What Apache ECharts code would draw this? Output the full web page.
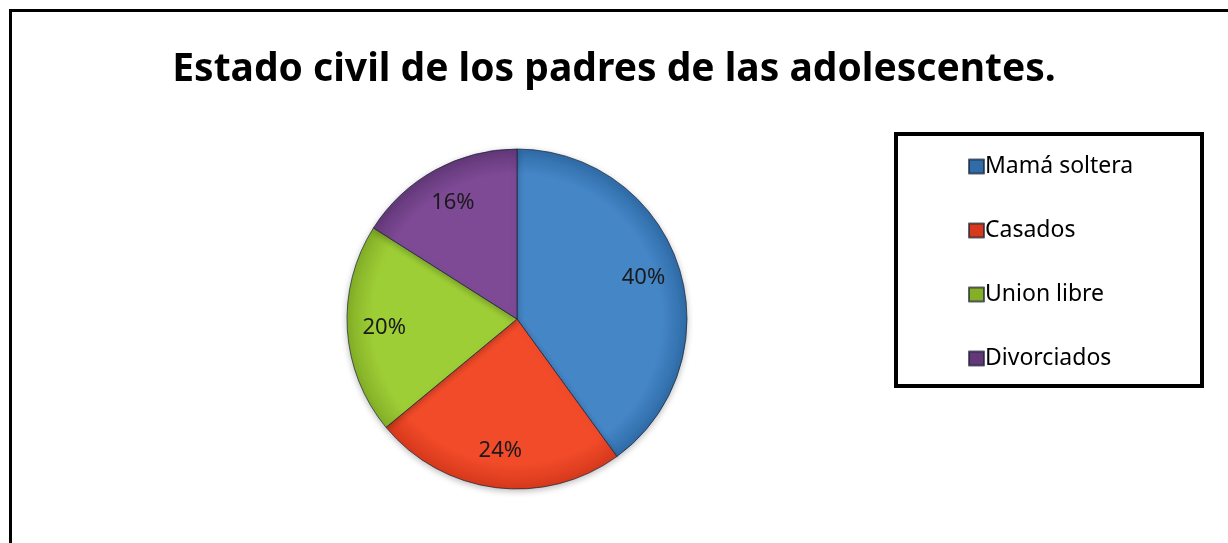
<!DOCTYPE html>
<html>
<head>
<meta charset="utf-8">
<script src="https://cdn.jsdelivr.net/npm/echarts@6/dist/echarts.min.js"></script>
<style>
  html, body { margin: 0; padding: 0; background: #fff; }
  #chart { width: 1228px; height: 543px; }
</style>
</head>
<body>
<div id="chart"></div>
<script>
// Marital status of the adolescents' parents (percent of respondents)
const categories = ['Mamá soltera', 'Casados', 'Union libre', 'Divorciados'];
const values = [40, 24, 20, 16];
const chartTitle = 'Estado civil de los padres de las adolescentes.';

// Slice fills: [inner tone, rim tone]
const sliceColors = [
  ['#4586C7', '#2F6CA8'],
  ['#F24B2A', '#D6391B'],
  ['#9ECE36', '#84AF27'],
  ['#7E4A96', '#633879']
];

const CX = 517, CY = 319, R = 170;
const FONT = 'Noto Sans';

const pieData = categories.map((name, i) => ({
  name,
  value: values[i],
  itemStyle: {
    color: {
      type: 'radial', x: CX, y: CY, r: R, global: true,
      colorStops: [
        { offset: 0, color: sliceColors[i][0] },
        { offset: 0.85, color: sliceColors[i][0] },
        { offset: 1, color: sliceColors[i][1] }
      ]
    }
  }
}));

const labelData = categories.map((name, i) => ({ name, value: values[i] }));

const chart = echarts.init(document.getElementById('chart'), null, { renderer: 'canvas' });

chart.setOption({
  backgroundColor: '#ffffff',
  animation: false,
  color: sliceColors.map(c => c[0]),
  title: {
    text: chartTitle,
    left: 'center',
    top: 45,
    textStyle: { fontFamily: FONT, fontWeight: 'bold', fontSize: 39, color: '#000' }
  },
  legend: {
    data: categories,
    orient: 'vertical',
    left: 968,
    top: 155,
    itemWidth: 15,
    itemHeight: 14,
    itemGap: 41,
    icon: 'rect',
    padding: 0,
    textStyle: { fontFamily: FONT, fontSize: 23, color: '#000', padding: [0, 0, 0, -4] }
  },
  graphic: [
    {
      // outer chart frame
      type: 'rect',
      silent: true,
      shape: { x: 10.5, y: 10.5, width: 1400, height: 700 },
      style: { fill: 'none', stroke: '#000', lineWidth: 3 }
    },
    {
      // legend frame
      type: 'rect',
      silent: true,
      shape: { x: 896, y: 134, width: 306, height: 252 },
      style: { fill: 'none', stroke: '#000', lineWidth: 4 }
    }
  ],
  series: [
    {
      type: 'pie',
      center: [CX, CY],
      radius: [0, R],
      startAngle: 90,
      clockwise: true,
      data: pieData,
      label: { show: false },
      labelLine: { show: false },
      itemStyle: {
        borderColor: 'rgba(25,35,55,0.7)',
        borderWidth: 1,
        shadowColor: 'rgba(0,0,0,0.25)',
        shadowBlur: 6,
        shadowOffsetY: 2
      },
      emphasis: { disabled: true }
    },
    {
      // transparent ring used only to place the percentage labels
      type: 'pie',
      center: [CX, CY],
      radius: [90, R],
      startAngle: 90,
      clockwise: true,
      silent: true,
      data: labelData,
      itemStyle: { color: 'rgba(0,0,0,0)', borderWidth: 0 },
      label: {
        show: true,
        position: 'inside',
        formatter: '{c}%',
        fontFamily: FONT,
        fontSize: 22,
        color: '#1a1a1a'
      },
      labelLine: { show: false },
      emphasis: { disabled: true }
    }
  ]
});
</script>
</body>
</html>
